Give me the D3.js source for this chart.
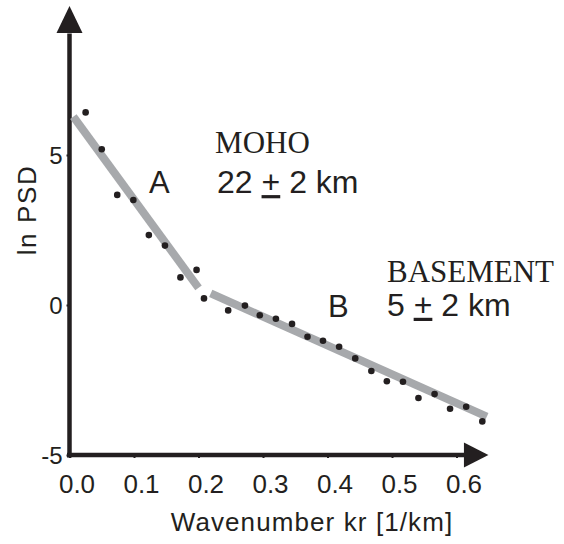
<!DOCTYPE html>
<html>
<head>
<meta charset="utf-8">
<script src="https://cdn.jsdelivr.net/npm/d3@7"></script>
<style>
body { margin: 0; background: #fff; }
text { font-family: "Liberation Sans", Arial, sans-serif; fill: #231f20; }
</style>
</head>
<body>
<svg id="chart" width="564" height="544"></svg>
<script>
// spectrum points
var kr    = [0.025, 0.05, 0.074, 0.099, 0.123, 0.148, 0.172, 0.197, 0.2085, 0.246, 0.272, 0.295, 0.32,
             0.345, 0.369, 0.393, 0.418, 0.443, 0.468, 0.492, 0.517, 0.541, 0.566, 0.59, 0.615, 0.64]
var lnPsd = [6.42, 5.19, 3.67, 3.5, 2.33, 1.98, 0.92, 1.17, 0.22, -0.18, -0.02, -0.34, -0.46,
             -0.63, -1.06, -1.19, -1.39, -1.78, -2.2, -2.54, -2.56, -3.1, -2.97, -3.46, -3.39, -3.88]

// straight-line fits (segment A = moho, segment B = basement)
var fitA = [[0.006, 6.28], [0.2, 0.57]]
var fitB = [[0.219, 0.39], [0.647, -3.72]]

var xTicks = [0, 0.1, 0.2, 0.3, 0.4, 0.5, 0.6]
var yTicks = [-5, 0, 5]

var svg = d3.select('#chart')
var x = d3.scaleLinear().domain([0, 0.6]).range([69.5, 456.5])
var y = d3.scaleLinear().domain([-5, 5]).range([455, 155])
var ink = '#231f20'

// x axis
var xAxis = svg.append('g')
    .attr('transform', 'translate(0,' + y(-5) + ')')
    .call(d3.axisBottom(x).tickValues(xTicks).tickSize(3).tickFormat(d3.format('.1f')))
xAxis.select('.domain').remove()
xAxis.selectAll('line').attr('stroke', ink).attr('stroke-width', 2)
xAxis.selectAll('text')
    .attr('y', 38).attr('dy', 0).attr('dx', 7)
    .style('font-size', '26px').attr('fill', ink)

// y axis (plain hyphen for the minus, as in the original)
var yAxis = svg.append('g')
    .attr('transform', 'translate(' + x(0) + ',0)')
    .call(d3.axisLeft(y).tickValues(yTicks).tickSize(3).tickFormat(d => String(d)))
yAxis.select('.domain').remove()
yAxis.selectAll('line').attr('stroke', ink).attr('stroke-width', 2)
yAxis.selectAll('text')
    .attr('x', -7).attr('dy', '0.36em')
    .style('font-size', '24px').attr('fill', ink)

// axis lines with arrow heads
svg.append('line')
    .attr('x1', x(0) - 2.5).attr('x2', x(0.612))
    .attr('y1', y(-5)).attr('y2', y(-5))
    .attr('stroke', ink).attr('stroke-width', 4.5)
svg.append('path')
    .attr('d', 'M' + x(0.6115) + ',' + (y(-5) - 12.5) + 'L' + x(0.6495) + ',' + y(-5) + 'L' + x(0.6115) + ',' + (y(-5) + 12.5) + 'Z')
    .attr('fill', ink)

svg.append('line')
    .attr('x1', x(0)).attr('x2', x(0))
    .attr('y1', y(-5) + 2.5).attr('y2', y(9.05))
    .attr('stroke', ink).attr('stroke-width', 4.5)
svg.append('path')
    .attr('d', 'M' + (x(0) - 13) + ',' + y(9.07) + 'L' + x(0) + ',' + y(9.97) + 'L' + (x(0) + 13) + ',' + y(9.07) + 'Z')
    .attr('fill', ink)

// fitted segments
var line = d3.line().x(d => x(d[0])).y(d => y(d[1]))
svg.selectAll('.fit').data([fitA, fitB]).enter().append('path')
    .attr('class', 'fit')
    .attr('d', line)
    .attr('fill', 'none')
    .attr('stroke', '#a7a9ac')
    .attr('stroke-width', 8)
    .attr('stroke-linecap', 'butt')

// data points
svg.selectAll('.dot').data(kr).enter().append('circle')
    .attr('class', 'dot')
    .attr('cx', d => x(d))
    .attr('cy', (d, i) => y(lnPsd[i]))
    .attr('r', 3.3)
    .attr('fill', ink)

// axis titles
svg.append('text')
    .attr('x', 312).attr('y', 531)
    .attr('text-anchor', 'middle')
    .style('font-size', '26px').style('letter-spacing', '1.1px')
    .text('Wavenumber kr [1/km]')
svg.append('text')
    .attr('transform', 'translate(36,210) rotate(-90)')
    .attr('text-anchor', 'middle')
    .style('font-size', '26px').style('letter-spacing', '1.6px')
    .text('ln PSD')

// annotations
function label(k, v, str, size, serif) {
    return svg.append('text')
        .attr('x', x(k)).attr('y', y(v))
        .style('font-size', size + 'px')
        .style('font-family', serif ? '"Liberation Serif", "Times New Roman", serif' : null)
        .text(str)
}
function depth(k, v, a, b) {
    var t = svg.append('text').attr('x', x(k)).attr('y', y(v)).style('font-size', '32px')
    t.append('tspan').text(a + ' ')
    t.append('tspan').style('text-decoration', 'underline').text('+')
    t.append('tspan').text(' ' + b + ' km')
}
label(0.1233, 3.73, 'A', 31)
label(0.4008, -0.4, 'B', 31)
label(0.2257, 5.07, 'MOHO', 31, true)
depth(0.2288, 3.73, '22', '2')
label(0.4922, 0.76, 'BASEMENT', 31, true)
depth(0.4922, -0.36, '5', '2')
</script>
</body>
</html>
